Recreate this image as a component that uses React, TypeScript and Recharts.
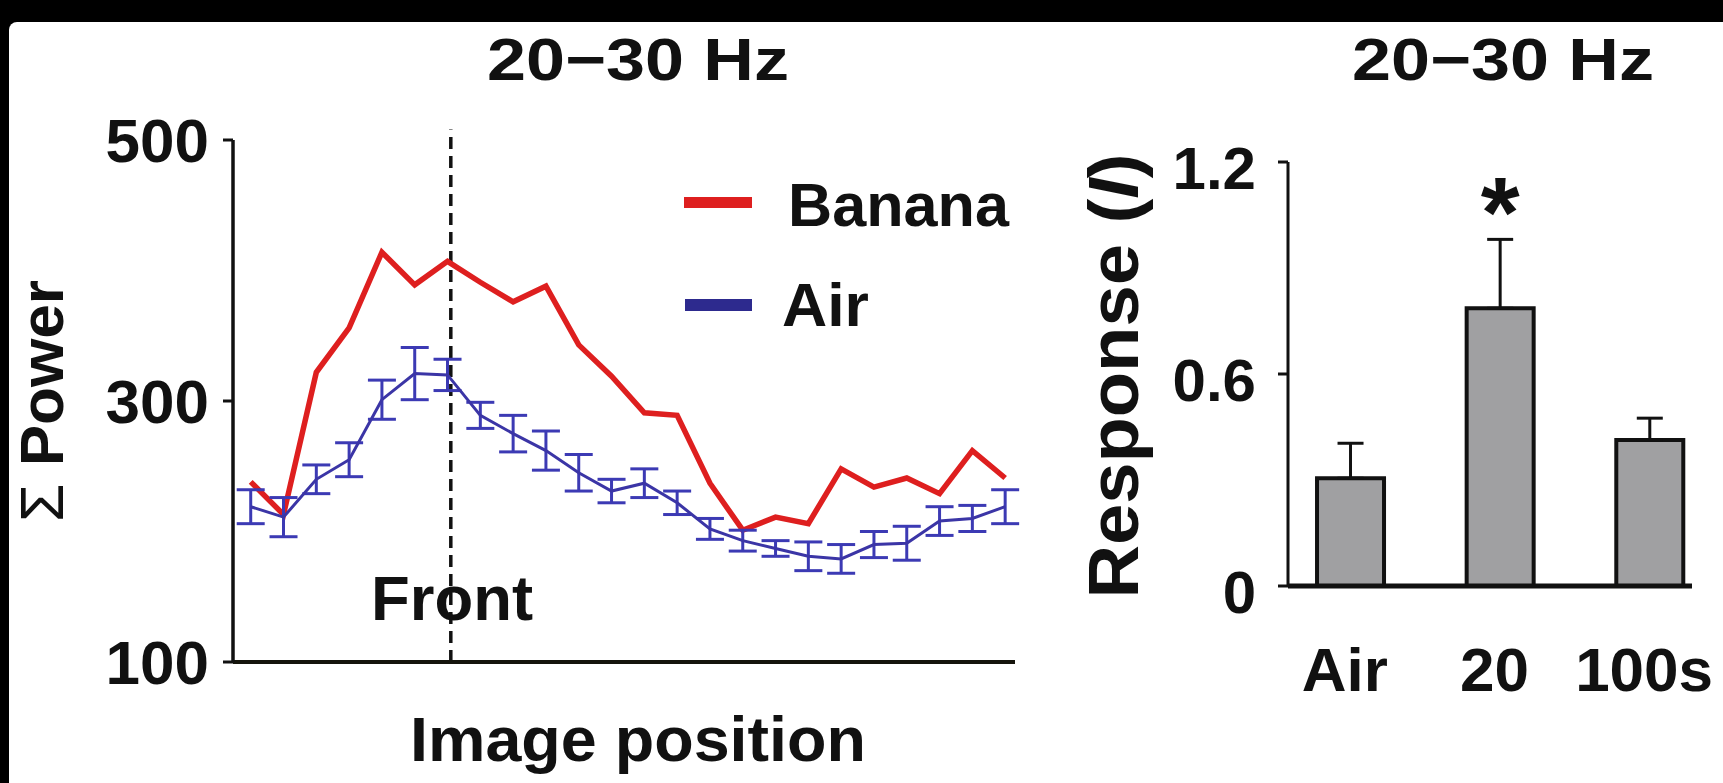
import React from 'react';
import { ComposedChart, Line, Bar, XAxis, YAxis, ErrorBar, ReferenceLine, LabelList } from 'recharts';

// ---- Left panel: summed 20-30 Hz power vs image position ----
const imagePositions = [0, 1, 2, 3, 4, 5, 6, 7, 8, 9, 10, 11, 12, 13, 14, 15, 16, 17, 18, 19, 20, 21, 22, 23];
const bananaPower = [238, 213, 322, 356, 414, 389, 407, 391, 376, 388, 343, 319, 291, 289, 237, 201, 211, 206, 248, 234, 241, 229, 262, 241];
const airPower = [219, 211, 240, 255, 301, 321, 320, 289, 275, 262, 245, 231, 237, 222, 202, 193, 187, 181, 179, 190, 191, 208, 210, 219];
const airPowerErr = [13, 15, 11, 13, 15, 20, 12, 10, 14, 15, 14, 9, 11, 9, 8, 8, 6, 11, 11, 10, 13, 11, 10, 13];
const powerTicks = [100, 300, 500];
const frontPosition = 6.1;

// ---- Right panel: response by condition ----
const conditionPositions = [0, 1, 2];
const conditionLabels = ['Air', '20', '100s'];
const responseValues = [0.305, 0.786, 0.413];
const responseErrors = [0.099, 0.195, 0.062];
const responseTicks = [0, 0.6, 1.2];
const responseTickLabels = ['0', '0.6', '1.2'];
const significance = ['', '*', ''];

const lineData = imagePositions.map((p, i) => ({
  pos: p,
  banana: bananaPower[i],
  air: airPower[i],
  airErr: airPowerErr[i],
}));

const barData = conditionPositions.map((p, i) => ({
  pos: p,
  label: conditionLabels[i],
  response: responseValues[i],
  err: [0, responseErrors[i]],
  sig: significance[i],
}));

const FONT = '"Liberation Sans", Arial, Helvetica, sans-serif';
const RED = '#de1f1f';
const BLUE = '#3b35a6';
const INK = '#111';

const PowerTick = (props: any) => {
  const { x, y, payload } = props;
  const fs = 62;
  return (
    <text x={x} y={y + 0.358 * fs} textAnchor="end" fontFamily={FONT} fontWeight="bold" fontSize={fs} fill={INK}>
      {payload.value}
    </text>
  );
};

const ResponseTick = (props: any) => {
  const { x, y, payload } = props;
  const fs = 60;
  const idx = responseTicks.indexOf(payload.value);
  const label = idx >= 0 ? responseTickLabels[idx] : String(payload.value);
  return (
    <text x={x} y={y + 6 + 0.358 * fs} textAnchor="end" fontFamily={FONT} fontWeight="bold" fontSize={fs} fill={INK}>
      {label}
    </text>
  );
};

const ConditionTick = (props: any) => {
  const { x, y, payload } = props;
  const label = conditionLabels[payload.value] ?? '';
  return (
    <text x={x - 6} y={y + 105} textAnchor="middle" fontFamily={FONT} fontWeight="bold" fontSize={62} fill={INK}>
      {label}
    </text>
  );
};

const SigLabel = (props: any) => {
  const { x, y, width, value } = props;
  if (!value) return null;
  return (
    <text x={x + width / 2} y={y - 61} textAnchor="middle" fontFamily={FONT} fontWeight="bold" fontSize={100} fill={INK}>
      {value}
    </text>
  );
};

const txt = { fontFamily: FONT, fontWeight: 'bold' as const, fill: INK };

export default function App() {
  return (
    <div style={{ position: 'fixed', left: 0, top: 0, width: 1723, height: 783, background: '#000', overflow: 'hidden' }}>
      <div style={{ position: 'absolute', left: 9, top: 22, width: 1714, height: 761, background: '#fff', borderTopLeftRadius: 8 }} />
      <svg width={1723} height={783} style={{ position: 'absolute', left: 0, top: 0 }}>
        {/* titles */}
        <text x={638} y={80} textAnchor="middle" fontSize={60} textLength={302} lengthAdjust="spacingAndGlyphs" {...txt}>20−30 Hz</text>
        <text x={1503} y={80} textAnchor="middle" fontSize={60} textLength={302} lengthAdjust="spacingAndGlyphs" {...txt}>20−30 Hz</text>
        {/* axis labels */}
        <text x={63} y={401} transform="rotate(-90 63 401)" textAnchor="middle" fontSize={62} textLength={242} lengthAdjust="spacingAndGlyphs" {...txt}>
          <tspan fontWeight="normal">Σ</tspan> Power
        </text>
        <text x={638} y={761} textAnchor="middle" fontSize={63} textLength={456} lengthAdjust="spacingAndGlyphs" {...txt}>Image position</text>
        <text x={1138} y={376} transform="rotate(-90 1138 376)" textAnchor="middle" fontSize={70} textLength={445} lengthAdjust="spacingAndGlyphs" {...txt}>
          Response (<tspan fontStyle="italic">I</tspan>)
        </text>
        {/* Front annotation */}
        <text x={452} y={620} textAnchor="middle" fontSize={63} textLength={162} lengthAdjust="spacingAndGlyphs" {...txt}>Front</text>
        {/* legend */}
        <rect x={684} y={197} width={68} height={11} fill={RED} />
        <text x={788} y={226} fontSize={62} textLength={221} lengthAdjust="spacingAndGlyphs" {...txt}>Banana</text>
        <rect x={685} y={299} width={67} height={12} fill="#2d2a8e" />
        <text x={782} y={326} fontSize={62} textLength={87} lengthAdjust="spacingAndGlyphs" {...txt}>Air</text>
      </svg>

      <div style={{ position: 'absolute', left: 0, top: 0 }}>
        <ComposedChart width={1040} height={783} data={lineData} margin={{ top: 140, right: 25, bottom: 120, left: 232 }}>
          <XAxis
            dataKey="pos"
            type="number"
            domain={[-0.54, 23.3]}
            allowDataOverflow
            height={1}
            tick={false}
            tickLine={false}
            axisLine={{ stroke: '#15140c', strokeWidth: 4 }}
          />
          <YAxis
            type="number"
            domain={[100, 500]}
            ticks={powerTicks}
            width={1}
            tickSize={10}
            tickMargin={14}
            tickLine={{ stroke: INK, strokeWidth: 3 }}
            axisLine={{ stroke: INK, strokeWidth: 3.5 }}
            tick={<PowerTick />}
          />
          <ReferenceLine
            segment={[{ x: frontPosition, y: 100 }, { x: frontPosition, y: 508 }]}
            stroke={INK}
            strokeWidth={3.5}
            strokeDasharray="12 7"
            ifOverflow="visible"
          />
          <Line type="linear" dataKey="banana" stroke={RED} strokeWidth={5.5} dot={false} isAnimationActive={false} />
          <Line type="linear" dataKey="air" stroke={BLUE} strokeWidth={3} dot={false} isAnimationActive={false}>
            <ErrorBar dataKey="airErr" width={14} strokeWidth={3} stroke="#3c3ab4" direction="y" />
          </Line>
        </ComposedChart>
      </div>

      <div style={{ position: 'absolute', left: 1100, top: 0 }}>
        <ComposedChart width={623} height={783} data={barData} margin={{ top: 162, right: 31, bottom: 196, left: 187 }}>
          <XAxis
            dataKey="pos"
            type="number"
            domain={[-0.42, 2.28]}
            allowDataOverflow
            ticks={conditionPositions}
            height={1}
            tickSize={0}
            tickMargin={0}
            tickLine={false}
            axisLine={{ stroke: INK, strokeWidth: 5 }}
            tick={<ConditionTick />}
            interval={0}
          />
          <YAxis
            type="number"
            domain={[0, 1.2]}
            ticks={responseTicks}
            width={1}
            tickSize={10}
            tickMargin={22}
            tickLine={{ stroke: INK, strokeWidth: 3 }}
            axisLine={{ stroke: INK, strokeWidth: 3 }}
            tick={<ResponseTick />}
          />
          <Bar dataKey="response" barSize={67} fill="#a0a0a2" stroke={INK} strokeWidth={4} isAnimationActive={false}>
            <ErrorBar dataKey="err" width={13} strokeWidth={3} stroke={INK} direction="y" />
            <LabelList dataKey="sig" content={<SigLabel />} />
          </Bar>
        </ComposedChart>
      </div>
    </div>
  );
}
